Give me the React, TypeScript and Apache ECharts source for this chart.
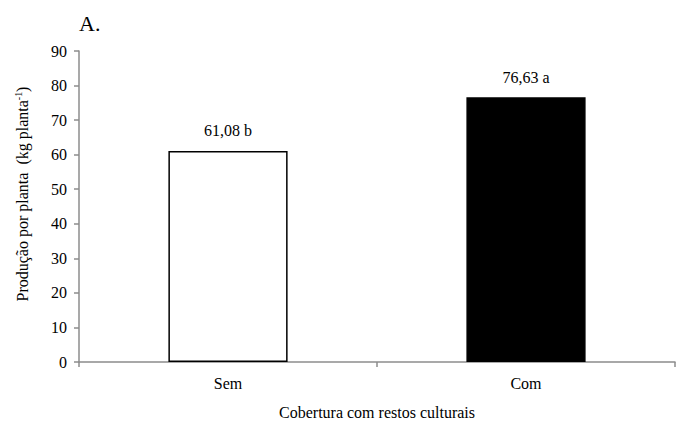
import React, { useEffect, useRef } from "react";
import * as echarts from "echarts";

const categories = ["Sem", "Com"];
const values = [61.08, 76.63];
const valueLabels = ["61,08 b", "76,63 a"];
const barColors = ["#ffffff", "#000000"];
const yTicks = [0, 10, 20, 30, 40, 50, 60, 70, 80, 90];

const FONT = "'Liberation Serif', 'DejaVu Serif', serif";

export default function App() {
  const ref = useRef<HTMLDivElement>(null);
  useEffect(() => {
    if (!ref.current) return;
    const chart = echarts.init(ref.current, null, { renderer: "svg" });
    chart.setOption({
      animation: false,
      backgroundColor: "#ffffff",
      textStyle: { fontFamily: FONT, color: "#000" },
      grid: { left: 79, right: 1, top: 51, bottom: 62 },
      xAxis: {
        type: "category",
        data: categories,
        axisLine: { lineStyle: { color: "#8c8c8c", width: 1.5 } },
        axisTick: { show: true, alignWithLabel: false, length: 5, lineStyle: { color: "#8c8c8c", width: 1.5 } },
        axisLabel: { fontFamily: FONT, fontSize: 16, color: "#000", margin: 13 },
        name: "Cobertura com restos culturais",
        nameLocation: "middle",
        nameGap: 42,
        nameTextStyle: { fontFamily: FONT, fontSize: 16, color: "#000" },
      },
      yAxis: {
        type: "value",
        min: yTicks[0],
        max: yTicks[yTicks.length - 1],
        interval: 10,
        splitLine: { show: false },
        axisLine: { show: true, lineStyle: { color: "#8c8c8c", width: 1.5 } },
        axisTick: { show: true, inside: false, length: 5, lineStyle: { color: "#8c8c8c", width: 1.5 } },
        axisLabel: { fontFamily: FONT, fontSize: 16, color: "#000", margin: 12 },
      },
      graphic: [
        {
          type: "text",
          left: 79,
          top: 12,
          style: { text: "A.", fontFamily: FONT, fontSize: 22, fill: "#000" },
        },
        {
          type: "text",
          x: 22,
          y: 194,
          rotation: Math.PI / 2,
          style: {
            text: "{n|Produção por planta  (kg planta}{s|-1}{n|)}",
            align: "center",
            verticalAlign: "middle",
            fontFamily: FONT,
            fontSize: 16,
            rich: {
              n: { fontFamily: FONT, fontSize: 16, fill: "#000" },
              s: { fontFamily: FONT, fontSize: 10, fill: "#000", verticalAlign: "top", padding: [0, 0, 8, 0] },
            },
          },
        },
      ],
      series: [
        {
          type: "bar",
          barWidth: "40%",
          data: values.map((v, i) => ({
            value: v,
            itemStyle: { color: barColors[i], borderColor: "#000", borderWidth: 1.5 },
            label: {
              show: true,
              position: "top",
              distance: 12,
              formatter: valueLabels[i],
              fontFamily: FONT,
              fontSize: 16,
              color: "#000",
            },
          })),
        },
      ],
    });
    return () => chart.dispose();
  }, []);
  return (
    <div
      ref={ref}
      style={{ position: "absolute", left: 0, top: 0, width: 676, height: 425 }}
    />
  );
}
